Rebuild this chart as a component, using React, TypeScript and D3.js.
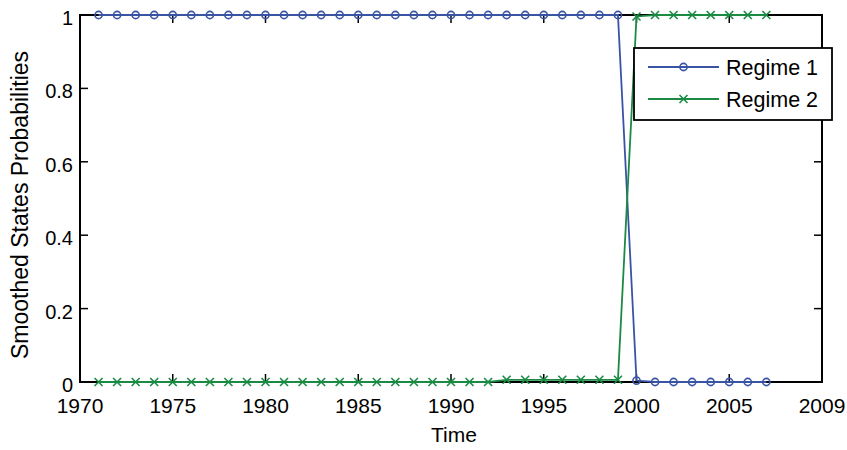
import React, { useRef, useEffect } from 'react';
import * as d3 from 'd3';

const years = d3.range(1971, 2008);
// 1971..2007
const regime1 = [
  1, 1, 1, 1, 1, 1, 1, 1, 1, 1,
  1, 1, 1, 1, 1, 1, 1, 1, 1, 1,
  1, 1, 1, 1, 1, 1, 1, 1, 1,
  0.004, 0, 0, 0, 0, 0, 0, 0,
];
const regime2 = [
  0, 0, 0, 0, 0, 0, 0, 0, 0, 0,
  0, 0, 0, 0, 0, 0, 0, 0, 0, 0,
  0, 0, 0.006, 0.006, 0.006, 0.006, 0.006, 0.006, 0.006,
  0.996, 1, 1, 1, 1, 1, 1, 1,
];
const xTicks = [1970, 1975, 1980, 1985, 1990, 1995, 2000, 2005, 2010];
const xTickLabels = ['1970', '1975', '1980', '1985', '1990', '1995', '2000', '2005', '2009'];
const yTicks = [0, 0.2, 0.4, 0.6, 0.8, 1];
const yTickLabels = ['0', '0.2', '0.4', '0.6', '0.8', '1'];
const seriesNames = ['Regime 1', 'Regime 2'];

const BLUE = '#3a54a4';
const GREEN = '#1b8a43';
const FONT = 'Liberation Sans, Arial, Helvetica, sans-serif';

function App() {
  const svgRef = useRef<SVGSVGElement>(null);

  useEffect(() => {
    const svg = d3.select(svgRef.current);
    svg.selectAll('*').remove();

    const left = 80, right = 822, top = 15, bottom = 382;
    const x = d3.scaleLinear().domain([1970, 2010]).range([left, right]);
    const y = d3.scaleLinear().domain([0, 1]).range([bottom, top]);

    const g = svg.append('g');

    // ticks (inward, all four sides)
    const tl = 8;
    xTicks.forEach(t => {
      g.append('line').attr('x1', x(t)).attr('x2', x(t)).attr('y1', bottom).attr('y2', bottom - tl)
        .attr('stroke', '#000').attr('stroke-width', 1.5);
      g.append('line').attr('x1', x(t)).attr('x2', x(t)).attr('y1', top).attr('y2', top + tl)
        .attr('stroke', '#000').attr('stroke-width', 1.5);
    });
    yTicks.forEach(t => {
      g.append('line').attr('x1', left).attr('x2', left + tl).attr('y1', y(t)).attr('y2', y(t))
        .attr('stroke', '#000').attr('stroke-width', 1.5);
      g.append('line').attr('x1', right).attr('x2', right - tl).attr('y1', y(t)).attr('y2', y(t))
        .attr('stroke', '#000').attr('stroke-width', 1.5);
    });

    // box
    g.append('rect')
      .attr('x', left).attr('y', top)
      .attr('width', right - left).attr('height', bottom - top)
      .attr('fill', 'none').attr('stroke', '#000').attr('stroke-width', 2);

    // tick labels
    xTicks.forEach((t, i) => {
      g.append('text').attr('x', x(t)).attr('y', 413)
        .attr('text-anchor', 'middle').attr('font-family', FONT).attr('font-size', 21)
        .text(xTickLabels[i]);
    });
    yTicks.forEach((t, i) => {
      g.append('text').attr('x', left - 7).attr('y', y(t) + 10)
        .attr('text-anchor', 'end').attr('font-family', FONT).attr('font-size', 20)
        .text(yTickLabels[i]);
    });

    // axis titles
    g.append('text').attr('x', (left + right) / 2 + 3).attr('y', 442)
      .attr('text-anchor', 'middle').attr('font-family', FONT).attr('font-size', 21)
      .text('Time');
    g.append('text')
      .attr('transform', 'translate(28,205) rotate(-90)')
      .attr('text-anchor', 'middle').attr('font-family', FONT).attr('font-size', 23)
      .text('Smoothed States Probabilities');

    const line = d3.line<[number, number]>().x(d => x(d[0])).y(d => y(d[1]));
    const d1 = years.map((yr, i) => [yr, regime1[i]] as [number, number]);
    const d2 = years.map((yr, i) => [yr, regime2[i]] as [number, number]);

    const drawCircle = (sel: any, cx: number, cy: number) =>
      sel.append('circle').attr('cx', cx).attr('cy', cy).attr('r', 3.6)
        .attr('fill', 'none').attr('stroke', BLUE).attr('stroke-width', 1.6);
    const drawCross = (sel: any, cx: number, cy: number) => {
      const s = 4;
      sel.append('path')
        .attr('d', `M${cx - s},${cy - s}L${cx + s},${cy + s}M${cx - s},${cy + s}L${cx + s},${cy - s}`)
        .attr('stroke', GREEN).attr('stroke-width', 1.6).attr('fill', 'none');
    };

    g.append('path').datum(d1).attr('d', line)
      .attr('fill', 'none').attr('stroke', BLUE).attr('stroke-width', 1.8);
    d1.forEach(d => drawCircle(g, x(d[0]), y(d[1])));

    g.append('path').datum(d2).attr('d', line)
      .attr('fill', 'none').attr('stroke', GREEN).attr('stroke-width', 1.8);
    d2.forEach(d => drawCross(g, x(d[0]), y(d[1])));

    // legend
    const lg = g.append('g').attr('transform', 'translate(634,48)');
    lg.append('rect').attr('width', 198).attr('height', 72)
      .attr('fill', '#fff').attr('stroke', '#000').attr('stroke-width', 1.8);
    seriesNames.forEach((name, i) => {
      const cy = 19 + i * 32;
      const color = i === 0 ? BLUE : GREEN;
      lg.append('line').attr('x1', 14).attr('x2', 85).attr('y1', cy).attr('y2', cy)
        .attr('stroke', color).attr('stroke-width', 1.8);
      if (i === 0) drawCircle(lg, 49.5, cy);
      else drawCross(lg, 49.5, cy);
      lg.append('text').attr('x', 92).attr('y', cy + 8)
        .attr('font-family', FONT).attr('font-size', 21.5)
        .text(name);
    });
  }, []);

  return (
    <svg ref={svgRef} width={847} height={450}
      style={{ position: 'absolute', left: 0, top: 0, background: '#fff' }} />
  );
}

export default App;
